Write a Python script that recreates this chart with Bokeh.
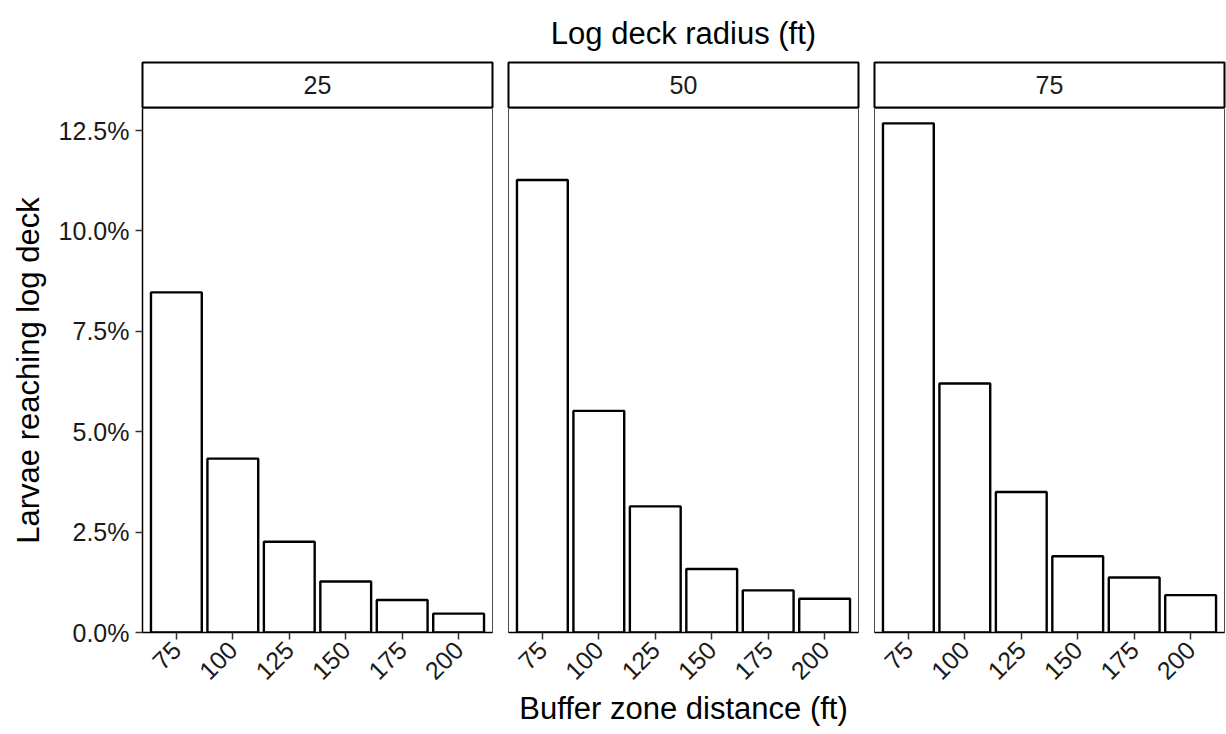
import math

from bokeh.core.properties import value
from bokeh.embed import file_html
from bokeh.layouts import column, row
from bokeh.models import FixedTicker, PrintfTickFormatter, Range1d, Title
from bokeh.plotting import figure
from bokeh.resources import INLINE

# Facet values (log deck radius, ft) and buffer zone distances (ft)
radius_ft = ["25", "50", "75"]
buffer_ft = ["75", "100", "125", "150", "175", "200"]

# Share of larvae reaching the log deck, in percent
pct_radius_25 = [8.47, 4.33, 2.26, 1.27, 0.81, 0.47]
pct_radius_50 = [11.27, 5.52, 3.14, 1.58, 1.05, 0.84]
pct_radius_75 = [12.68, 6.20, 3.50, 1.90, 1.37, 0.93]

y_ticks = [0.0, 2.5, 5.0, 7.5, 10.0, 12.5]

FONT_NAME = "Liberation Sans"
TEXT_COLOR = "#1a1a1a"

PANEL_W = 350
PANEL_H = 524
STRIP_H = 45
TOP = 62
LEFT = 142
BOTTOM = 102
Y_MAX = 13.05

series = [pct_radius_25, pct_radius_50, pct_radius_75]
positions = [i + 1 for i in range(len(buffer_ft))]
borders = [(LEFT, 8), (8, 8), (8, 2)]


def strip_figure(label, left, right, title=None):
    s = figure(frame_width=PANEL_W, frame_height=STRIP_H,
               min_border_top=TOP, min_border_bottom=1,
               min_border_left=left, min_border_right=right,
               x_range=Range1d(0, 1), y_range=Range1d(0, 1),
               x_axis_location=None, y_axis_location=None,
               toolbar_location=None, output_backend="svg", title=title)
    s.grid.visible = False
    s.outline_line_color = "black"
    s.outline_line_width = 2
    s.background_fill_color = "white"
    s.border_fill_color = "white"
    s.text(x=[0.5], y=[0.5], text=[label], text_align="center",
           text_baseline="middle", text_font=value(FONT_NAME),
           text_font_size="25px", text_color=TEXT_COLOR)
    return s


def style_axis(ax):
    ax.axis_line_color = "black"
    ax.axis_line_width = 1.5
    ax.major_tick_line_color = "#333333"
    ax.major_tick_line_width = 1.5
    ax.major_tick_out = 7
    ax.major_tick_in = 0
    ax.minor_tick_line_color = None
    ax.major_label_text_font = FONT_NAME
    ax.major_label_text_font_size = "25px"
    ax.major_label_text_color = TEXT_COLOR
    ax.axis_label_text_font = FONT_NAME
    ax.axis_label_text_font_size = "31px"
    ax.axis_label_text_font_style = "normal"
    ax.axis_label_text_color = "black"


def panel_figure(values, left, right, show_y, x_label):
    p = figure(frame_width=PANEL_W, frame_height=PANEL_H,
               min_border_top=0, min_border_bottom=BOTTOM,
               min_border_left=left, min_border_right=right,
               x_range=Range1d(0.4, len(buffer_ft) + 0.6),
               y_range=Range1d(0, Y_MAX),
               y_axis_location="left" if show_y else None,
               toolbar_location=None, output_backend="svg", title=None)
    p.grid.visible = False
    p.outline_line_color = "#4d4d4d"
    p.outline_line_width = 1
    p.background_fill_color = "white"
    p.border_fill_color = "white"

    p.vbar(x=positions, top=values, bottom=0, width=0.9,
           fill_color="white", line_color="black", line_width=2.4)

    xa = p.xaxis[0]
    style_axis(xa)
    xa.ticker = FixedTicker(ticks=positions)
    xa.major_label_overrides = {pos: lab for pos, lab in zip(positions, buffer_ft)}
    xa.major_label_orientation = math.pi / 4
    xa.major_label_standoff = 6
    if x_label:
        xa.axis_label = x_label
        xa.axis_label_standoff = 0

    if show_y:
        ya = p.yaxis[0]
        style_axis(ya)
        ya.ticker = FixedTicker(ticks=y_ticks)
        ya.formatter = PrintfTickFormatter(format="%.1f%%")
        ya.major_label_standoff = 6
        ya.axis_label = "Larvae reaching log deck"
        ya.axis_label_standoff = 10
    return p


columns = []
for k, (label, values, (left, right)) in enumerate(zip(radius_ft, series, borders)):
    title = None
    if k == 1:
        title = Title(text="Log deck radius (ft)", align="center",
                      text_font=FONT_NAME, text_font_size="31px",
                      text_font_style="normal", text_color="black", standoff=24)
    strip = strip_figure(label, left, right, title=title)
    panel = panel_figure(values, left, right, show_y=(k == 0),
                         x_label="Buffer zone distance (ft)" if k == 1 else None)
    columns.append(column(strip, panel, spacing=0))

layout = row(*columns, spacing=0)

with open("out.html", "w") as f:
    f.write(file_html(layout, INLINE, title="Larvae reaching log deck"))
